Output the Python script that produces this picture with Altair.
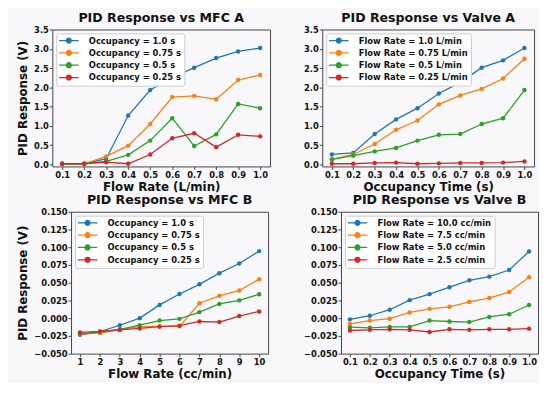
import altair as alt
import pandas as pd

COLORS = ["#1f77b4", "#ff7f0e", "#2ca02c", "#d62728"]
FONT = "DejaVu Sans"
BG = "#f8f8fa"

# ---- data -------------------------------------------------------------
x_frac = [0.1, 0.2, 0.3, 0.4, 0.5, 0.6, 0.7, 0.8, 0.9, 1.0]
x_cc = [1, 2, 3, 4, 5, 6, 7, 8, 9, 10]

occ_labels = ["Occupancy = 1.0 s", "Occupancy = 0.75 s",
              "Occupancy = 0.5 s", "Occupancy = 0.25 s"]
flow_a_labels = ["Flow Rate = 1.0 L/min", "Flow Rate = 0.75 L/min",
                 "Flow Rate = 0.5 L/min", "Flow Rate = 0.25 L/min"]
flow_b_labels = ["Flow Rate = 10.0 cc/min", "Flow Rate = 7.5 cc/min",
                 "Flow Rate = 5.0 cc/min", "Flow Rate = 2.5 cc/min"]

# PID Response vs MFC A
mfc_a_occ_100 = [0.02, 0.02, 0.15, 1.27, 1.93, 2.25, 2.51, 2.76, 2.93, 3.02]
mfc_a_occ_075 = [0.02, 0.02, 0.21, 0.49, 1.05, 1.75, 1.78, 1.69, 2.19, 2.32]
mfc_a_occ_050 = [0.02, 0.02, 0.08, 0.25, 0.62, 1.20, 0.48, 0.78, 1.57, 1.46]
mfc_a_occ_025 = [0.02, 0.02, 0.06, 0.02, 0.26, 0.68, 0.81, 0.45, 0.77, 0.73]

# PID Response vs Valve A
valve_a_fr_100 = [0.26, 0.30, 0.79, 1.17, 1.46, 1.84, 2.13, 2.51, 2.70, 3.02]
valve_a_fr_075 = [0.13, 0.26, 0.53, 0.90, 1.14, 1.56, 1.79, 1.96, 2.23, 2.74]
valve_a_fr_050 = [0.13, 0.23, 0.34, 0.43, 0.62, 0.77, 0.79, 1.05, 1.20, 1.93]
valve_a_fr_025 = [0.02, 0.02, 0.04, 0.05, 0.02, 0.03, 0.04, 0.04, 0.05, 0.08]

# PID Response vs MFC B
mfc_b_occ_100 = [-0.0234, -0.019, -0.010, 0.000, 0.0187, 0.034, 0.0477, 0.0634, 0.077, 0.0945]
mfc_b_occ_075 = [-0.022, -0.021, -0.016, -0.012, -0.0115, -0.0115, 0.021, 0.0315, 0.039, 0.055]
mfc_b_occ_050 = [-0.0225, -0.0196, -0.0157, -0.0098, -0.0034, -0.001, 0.0085, 0.020, 0.025, 0.0336]
mfc_b_occ_025 = [-0.020, -0.0187, -0.0166, -0.0145, -0.012, -0.0106, -0.0047, -0.0055, 0.003, 0.0094]

# PID Response vs Valve B
valve_b_fr_100 = [-0.0017, 0.0034, 0.0119, 0.0254, 0.0339, 0.0436, 0.0534, 0.0585, 0.0678, 0.094]
valve_b_fr_075 = [-0.008, -0.0034, -0.0008, 0.008, 0.0131, 0.016, 0.0229, 0.0284, 0.0369, 0.0576]
valve_b_fr_050 = [-0.0127, -0.0136, -0.0123, -0.0123, -0.0034, -0.0047, -0.0055, 0.0017, 0.0055, 0.0186]
valve_b_fr_025 = [-0.0174, -0.0165, -0.0157, -0.0165, -0.0195, -0.0157, -0.0165, -0.0157, -0.0157, -0.0148]

y_top_ticks = [0.0, 0.5, 1.0, 1.5, 2.0, 2.5, 3.0, 3.5]
y_bot_ticks = [-0.05, -0.025, 0.0, 0.025, 0.05, 0.075, 0.1, 0.125, 0.15]

SYMBOL = ("M-3.3,0L3.3,0M-0.83,0A0.83,0.83,0,1,1,0.83,0"
          "A0.83,0.83,0,1,1,-0.83,0Z")


def panel(xs, labels, series, title, xtitle, ytitle, xdom, xticks, xfmt,
          ydom, yticks, yfmt, w, h):
    rows = []
    for lab, vals in zip(labels, series):
        for xv, yv in zip(xs, vals):
            rows.append({"x": xv, "y": yv, "s": lab})
    df = pd.DataFrame(rows)
    color = alt.Color(
        "s:N",
        scale=alt.Scale(domain=labels, range=COLORS),
        legend=alt.Legend(
            title=None, orient="top-left", offset=4, padding=3,
            rowPadding=1.5, fillColor="white", strokeColor="#cccccc",
            cornerRadius=2, labelFont=FONT, labelFontWeight="bold",
            labelFontSize=8.5, labelColor="#111111", symbolType=SYMBOL,
            symbolSize=36, symbolStrokeWidth=1.3, symbolOffset=5.5,
            labelOffset=16, labelLimit=300,
        ),
    )
    axis_common = dict(
        labelFont=FONT, labelFontWeight="bold", labelFontSize=8.5,
        labelColor="#111111", titleFont=FONT, titleFontWeight="bold",
        titleFontSize=12, titleColor="#111111", grid=False, domain=False,
        ticks=True, tickSize=3, tickColor="#444444", labelPadding=1,
    )
    x = alt.X("x:Q", scale=alt.Scale(domain=xdom, nice=False, zero=False),
              axis=alt.Axis(values=xticks, format=xfmt, title=xtitle,
                            titlePadding=3, labelFlush=False, **axis_common))
    yax = dict(values=yticks, format=yfmt, titlePadding=4, titleLimit=400,
               **axis_common)
    yax["title"] = ytitle if ytitle else None
    y = alt.Y("y:Q", scale=alt.Scale(domain=ydom, nice=False, zero=False),
              axis=alt.Axis(**yax))
    base = alt.Chart(df).encode(x=x, y=y, color=color, order="x:Q")
    line = base.mark_line(strokeWidth=1.3)
    pts = base.mark_point(filled=True, size=20, opacity=1)
    return alt.layer(line, pts).properties(
        width=w, height=h,
        title=alt.Title(title, font=FONT, fontWeight="bold", fontSize=12.75,
                        color="#111111", offset=1),
    )


def spacer(w):
    # invisible layout helper, only reserves horizontal room
    return alt.Chart(pd.DataFrame({"v": [0]})).mark_point(opacity=0).encode(
        x=alt.value(0), y=alt.value(0)
    ).properties(width=w, height=1,
                 view=alt.ViewBackground(stroke="transparent"))


tl = panel(x_frac, occ_labels,
           [mfc_a_occ_100, mfc_a_occ_075, mfc_a_occ_050, mfc_a_occ_025],
           "PID Response vs MFC A", "Flow Rate (L/min)", "PID Response (V)",
           [0.055, 1.045], x_frac, ".1f", [-0.05, 3.5], y_top_ticks, ".1f",
           221, 139)
tr = panel(x_frac, flow_a_labels,
           [valve_a_fr_100, valve_a_fr_075, valve_a_fr_050, valve_a_fr_025],
           "PID Response vs Valve A", "Occupancy Time (s)", None,
           [0.055, 1.045], x_frac, ".1f", [-0.05, 3.5], y_top_ticks, ".1f",
           215, 139)
bl = panel(x_cc, occ_labels,
           [mfc_b_occ_100, mfc_b_occ_075, mfc_b_occ_050, mfc_b_occ_025],
           "PID Response vs MFC B", "Flow Rate (cc/min)", "PID Response (V)",
           [0.55, 10.45], x_cc, "d", [-0.05, 0.15], y_bot_ticks, ".3f",
           200, 144)
br = panel(x_frac, flow_b_labels,
           [valve_b_fr_100, valve_b_fr_075, valve_b_fr_050, valve_b_fr_025],
           "PID Response vs Valve B", "Occupancy Time (s)", None,
           [0.055, 1.045], x_frac, ".1f", [-0.05, 0.15], y_bot_ticks, ".3f",
           200, 144)


def row(*charts):
    return alt.hconcat(*charts, spacing=0).resolve_scale(
        color="independent", x="independent", y="independent"
    ).resolve_legend(color="independent")


top = row(spacer(1), tl, spacer(27), tr)
bot = row(spacer(1), bl, spacer(29), br)

chart = alt.vconcat(top, bot, spacing=0).resolve_scale(
    color="independent", x="independent", y="independent"
).resolve_legend(color="independent").configure(
    background=BG, padding=0,
).configure_view(stroke="#444444", strokeWidth=1)

chart.save("out.html", embed_options={"renderer": "svg", "actions": False})
